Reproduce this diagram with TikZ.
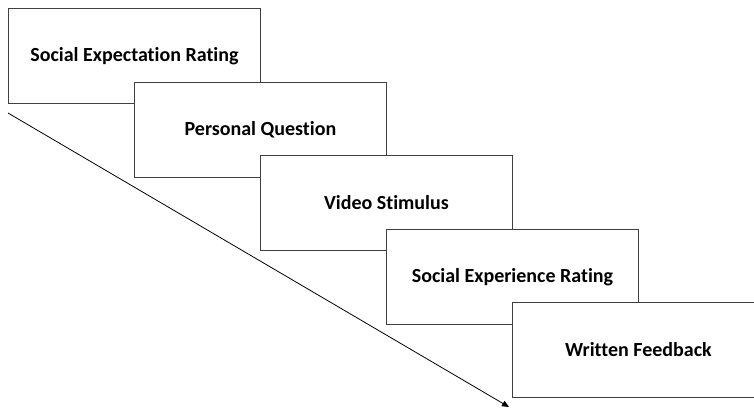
\documentclass[tikz,border=0pt]{standalone}
\usepackage{fontspec}
\setmainfont{Carlito}[Ligatures=NoCommon]
\usetikzlibrary{arrows.meta}
\tikzset{
  stagebox/.style={draw=black!75, line width=0.9pt, fill=white, minimum width=252pt, minimum height=95pt, anchor=north west, inner sep=0pt, font=\bfseries\fontsize{20}{24}\selectfont},
}
\begin{document}
\begin{tikzpicture}[x=1pt,y=-1pt]
\useasboundingbox (0,0) rectangle (754,408);
\coordinate (s) at (8,113);
\coordinate (e) at (509,407);
\draw[line width=0.8pt, -{Triangle[length=7pt,width=6pt]}] (s) -- (e);
\node[stagebox] (b1) at (8,8) {Social Expectation Rating};
\node[stagebox] (b2) at (134,82) {Personal Question};
\node[stagebox] (b3) at (260,155) {Video Stimulus};
\node[stagebox] (b4) at (386,229) {Social Experience Rating};
\node[stagebox] (b5) at (512,302) {Written Feedback};
\end{tikzpicture}
\end{document}
